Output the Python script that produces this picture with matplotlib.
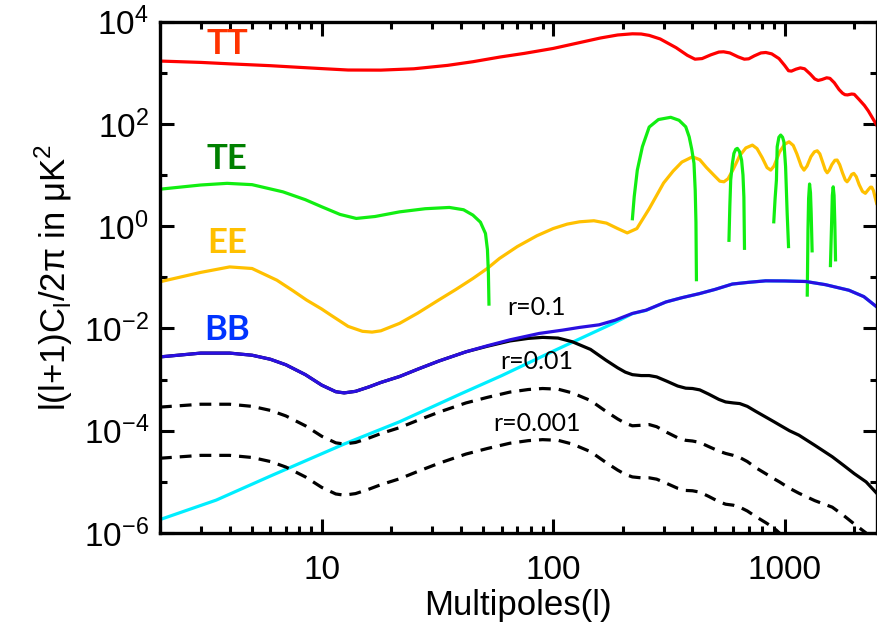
import numpy as np
import matplotlib
matplotlib.use("Agg")
import matplotlib.pyplot as plt
from matplotlib.ticker import FixedLocator, FuncFormatter, NullFormatter

plt.rcParams['font.family'] = ['Liberation Sans', 'DejaVu Sans']
plt.rcParams['mathtext.fontset'] = 'custom'
plt.rcParams['mathtext.rm'] = 'Liberation Sans'

nan = np.nan

# TT spectrum
tt_l = [2, 3, 4, 6, 8, 10, 13, 18, 25, 35, 45, 59, 75, 100, 130, 160, 190, 220, 240, 260,
        290, 340, 380, 410, 440, 480, 520, 545, 580, 630, 670, 700, 740, 790, 830, 880, 946,
        1000, 1040, 1070, 1120, 1170, 1220, 1290, 1350, 1396, 1450, 1520, 1570, 1640, 1720,
        1780, 1823, 1870, 1950, 2000, 2100, 2213, 2300, 2400, 2500]
tt = [1700, 1600, 1500, 1380, 1280, 1210, 1135, 1130, 1200, 1400, 1650, 2040, 2400, 3000,
      3900, 4800, 5500, 5800, 5750, 5400, 4600, 3100, 2200, 1850, 1900, 2250, 2550, 2580,
      2450, 2050, 1850, 1880, 2150, 2450, 2500, 2350, 1900, 1400, 1100, 1080, 1180, 1250,
      1200, 950, 760, 710, 740, 800, 780, 640, 470, 400, 374, 370, 385, 380, 300, 230, 180,
      130, 95]

# TE spectrum (positive parts only, NaN = gap)
te_l = [2, 3, 3.9, 5, 6.8, 8.5, 10, 12, 14.1, 17, 21.7, 28, 35.6, 41, 45, 48.5, 51.0, 52.0, 52.5, 52.8, nan,
        220, 224, 231, 243, 260, 285, 322, 350, 374, 387, 397, 406, 411, 414, 416, nan,
        575, 580, 585, 595, 604, 615, 625, 638, 652, 661, 667, 671, nan,
        898, 910, 922, 929, 945, 962, 980, 993, 1010, 1026, 1040, nan,
        1253, 1262, 1270, 1282, 1294, 1303, 1315, nan,
        1578, 1595, 1608, 1622, 1636, 1648, 1660]
te = [5.3, 6.4, 6.9, 6.5, 4.7, 3.3, 2.4, 1.7, 1.42, 1.55, 1.91, 2.2, 2.33, 2.1, 1.65, 1.2, 0.72, 0.35, 0.12, 0.03, nan,
      1.4, 3.8, 12.5, 36, 87, 122, 135, 118, 88, 56, 32, 17, 5, 1.2, 0.09, nan,
      0.53, 2.5, 8, 17, 26.6, 32, 33.3, 29, 19.6, 10, 3.7, 0.37, nan,
      1.22, 3.5, 8, 35.8, 55, 60.7, 55, 44.8, 14.6, 1.78, 0.4, nan,
      0.045, 0.84, 3.5, 6.7, 4.5, 1.78, 0.33, nan,
      0.17, 1.0, 4.0, 5.9, 4.0, 1.2, 0.22]

# EE spectrum
ee_l = [2, 3, 4, 5, 6.4, 7.5, 8.6, 10, 11, 13, 15, 16.5, 18, 21.7, 26, 32, 38, 45, 52, 58.6,
        70, 85, 100, 115, 130, 150, 170, 190, 209, 230, 260, 300, 330, 360, 400, 430, 460,
        500, 525, 547, 570, 600, 640, 680, 726, 760, 800, 840, 871, 900, 950, 1000, 1045,
        1090, 1130, 1180, 1213, 1250, 1300, 1345, 1384, 1420, 1460, 1500, 1528, 1560, 1600,
        1650, 1687, 1730, 1780, 1830, 1862, 1900, 1950, 1991, 2040, 2100, 2170, 2234, 2300,
        2350, 2380, 2420, 2460, 2500]
ee = [0.082, 0.125, 0.16, 0.149, 0.088, 0.055, 0.036, 0.024, 0.018, 0.011, 0.0088, 0.0085,
      0.009, 0.0126, 0.02, 0.036, 0.058, 0.095, 0.15, 0.234, 0.4, 0.65, 0.9, 1.1, 1.22, 1.28,
      1.15, 0.9, 0.74, 0.9, 2.2, 7, 12, 18, 22.8, 20, 14, 9.5, 7.6, 7.4, 8.5, 13, 24, 34,
      38.6, 33, 22, 14, 12.5, 15, 28, 40, 44.8, 38, 26, 15, 12.5, 15, 23, 28.5, 29.9, 26, 18,
      12.5, 11.1, 12.5, 16, 19.5, 19.7, 16, 11, 8, 7.4, 8.3, 10.3, 10.8, 9.3, 6.5, 4.8, 4.4,
      5.2, 5.8, 5.8, 5, 3.7, 2.8]

# BB total (lensing + r=0.1)
bb_l = [2, 3, 4, 5, 6, 7, 8.5, 10, 11.5, 12.5, 14, 16, 18, 21.7, 26, 32, 42, 52, 65, 87,
        110, 130, 158, 185, 220, 252, 307, 360, 428, 500, 595, 700, 828, 1000, 1234, 1500,
        1896, 2200, 2500]
bb = [2.78e-3, 3.3e-3, 3.3e-3, 3.0e-3, 2.5e-3, 1.95e-3, 1.25e-3, 7.8e-4, 5.8e-4, 5.5e-4,
      5.9e-4, 7.2e-4, 8.8e-4, 1.15e-3, 1.6e-3, 2.3e-3, 3.5e-3, 4.6e-3, 6.0e-3, 8e-3, 9.3e-3,
      0.0105, 0.0118, 0.0145, 0.0197, 0.0228, 0.033, 0.04, 0.048, 0.058, 0.074, 0.08, 0.0855,
      0.085, 0.083, 0.072, 0.056, 0.042, 0.0265]

# lensing BB
lens_l = [2, 3.5, 6, 12.5, 21.7, 40, 60, 100, 140, 181, 220, 252, 307, 360, 428, 500, 595,
          700, 828, 1000, 1234, 1500, 1896, 2200, 2500]
lens = [1.83e-6, 4.4e-6, 1.3e-5, 5.5e-5, 1.5e-4, 5.3e-4, 1.2e-3, 3.6e-3, 7.3e-3, 0.0125,
        0.0195, 0.0226, 0.033, 0.04, 0.048, 0.058, 0.074, 0.08, 0.0855, 0.085, 0.083, 0.072,
        0.056, 0.042, 0.0265]

# primordial BB for three tensor-to-scalar ratios
r_l = [2, 3, 4, 5, 6, 7, 8.5, 10, 11.5, 12.5, 14, 16, 18, 21.7, 26, 32, 42, 52, 65, 78,
       90, 105, 121, 145, 169, 190, 205, 220, 240, 260, 280, 310, 345, 374, 400, 430, 470,
       520, 556, 600, 640, 690, 750, 828, 900, 950, 1050, 1153, 1350, 1607, 1800, 2000,
       2250, 2500]
r_01 = [2.78e-3, 3.3e-3, 3.3e-3, 3.0e-3, 2.5e-3, 1.95e-3, 1.25e-3, 7.8e-4, 5.8e-4, 5.5e-4,
        5.9e-4, 7.2e-4, 8.8e-4, 1.15e-3, 1.6e-3, 2.3e-3, 3.5e-3, 4.5e-3, 5.7e-3, 6.4e-3,
        6.7e-3, 6.5e-3, 5.5e-3, 3.9e-3, 2.4e-3, 1.7e-3, 1.4e-3, 1.25e-3, 1.2e-3, 1.2e-3,
        1.13e-3, 9.3e-4, 7.5e-4, 6.8e-4, 6.7e-4, 6.3e-4, 5.2e-4, 4.1e-4, 3.66e-4, 3.5e-4,
        3.4e-4, 3.0e-4, 2.4e-4, 1.86e-4, 1.5e-4, 1.3e-4, 1.0e-4, 8.2e-5, 5.2e-5, 3.1e-5,
        2.1e-5, 1.45e-5, 1e-5, 6e-6]
r_001 = [2.9e-4, 3.3e-4, 3.3e-4, 3.0e-4, 2.5e-4, 1.95e-4, 1.25e-4, 7.8e-5, 5.8e-5, 5.5e-5,
         5.9e-5, 7.2e-5, 8.8e-5, 1.15e-4, 1.6e-4, 2.3e-4, 3.5e-4, 4.5e-4, 5.7e-4, 6.4e-4,
         6.7e-4, 6.5e-4, 5.5e-4, 3.9e-4, 2.4e-4, 1.7e-4, 1.4e-4, 1.25e-4, 1.28e-4, 1.32e-4,
         1.2e-4, 9.3e-5, 7.3e-5, 6.5e-5, 6.3e-5, 5.9e-5, 4.9e-5, 4.0e-5, 3.6e-5, 3.3e-5,
         3.0e-5, 2.5e-5, 1.9e-5, 1.45e-5, 1.15e-5, 1.0e-5, 7.5e-6, 6.0e-6, 4.3e-6, 3.2e-6,
         2.2e-6, 1.5e-6, 1e-6, 5e-7]
r_0001 = [2.9e-5, 3.3e-5, 3.3e-5, 3.0e-5, 2.5e-5, 1.95e-5, 1.25e-5, 7.8e-6, 5.8e-6, 5.5e-6,
          5.9e-6, 7.2e-6, 8.8e-6, 1.15e-5, 1.6e-5, 2.3e-5, 3.5e-5, 4.5e-5, 5.7e-5, 6.4e-5,
          6.7e-5, 6.5e-5, 5.5e-5, 3.9e-5, 2.4e-5, 1.7e-5, 1.4e-5, 1.25e-5, 1.2e-5, 1.2e-5,
          1.13e-5, 9.3e-6, 7.5e-6, 6.8e-6, 6.7e-6, 6.3e-6, 5.2e-6, 4.1e-6, 3.66e-6, 3.5e-6,
          3.2e-6, 2.7e-6, 2.1e-6, 1.6e-6, 1.25e-6, 1.0e-6, 7e-7, nan, nan, nan,
          nan, nan, nan, nan]

fig = plt.figure(figsize=(8.78, 6.31), dpi=100)
ax = fig.add_axes([0.1822, 0.1553, 0.8163, 0.8103])

lw = 2.3
ax.plot(tt_l, tt, color='#ff0000', lw=lw)
ax.plot(ee_l, ee, color='#ffc000', lw=lw)
ax.plot(te_l, te, color='#11ee11', lw=lw)
ax.plot(lens_l, lens, color='#00eeff', lw=lw)
ax.plot(r_l, r_001, color='black', lw=lw, dashes=(3.7, 2.5))
ax.plot(r_l, r_0001, color='black', lw=lw, dashes=(3.7, 2.5))
ax.plot(r_l, r_01, color='black', lw=lw)
ax.plot(bb_l, bb, color='#2a0fe0', lw=lw)

ax.set_xscale('log')
ax.set_yscale('log')
ax.set_xlim(2, 2500)
ax.set_ylim(1e-6, 1e4)

# curve labels
lab = dict(family=['Lato', 'DejaVu Sans'], fontweight='bold', fontsize=25,
           ha='center', va='center')
ax.text(3.9, 3600, 'TT', color='#ff3300', **lab)
ax.text(3.9, 21, 'TE', color='#008000', **lab)
ax.text(3.9, 0.47, 'EE', color='#ffc000', **lab)
ax.text(3.9, 0.0093, 'BB', color='#0033ff', **lab)

rl = dict(family=['Lato', 'DejaVu Sans'], fontsize=18, ha='center', va='center', color='black')
ax.text(85, 0.026, 'r=0.1', **rl)
ax.text(85, 2.3e-3, 'r=0.01', **rl)
ax.text(85, 1.4e-4, 'r=0.001', **rl)

ax.xaxis.set_major_locator(FixedLocator([10, 100, 1000]))
ax.xaxis.set_major_formatter(FuncFormatter(lambda v, p: '%d' % round(v)))
ax.xaxis.set_minor_locator(FixedLocator([2, 3, 4, 5, 6, 7, 8, 9, 20, 30, 40, 50, 60, 70, 80, 90,
                                         200, 300, 400, 500, 600, 700, 800, 900, 2000]))
ax.xaxis.set_minor_formatter(NullFormatter())
ax.yaxis.set_major_locator(FixedLocator([1e-6, 1e-4, 1e-2, 1e0, 1e2, 1e4]))
ax.yaxis.set_major_formatter(FuncFormatter(lambda v, p: r'$\mathregular{10^{%d}}$' % round(np.log10(v))))
ax.yaxis.set_minor_locator(FixedLocator([1e-5, 1e-3, 1e-1, 1e1, 1e3]))
ax.yaxis.set_minor_formatter(NullFormatter())

ax.tick_params(which='both', direction='in', top=True, right=True, width=2.2, colors='black')
ax.tick_params(which='major', length=10, labelsize=24)
ax.tick_params(which='minor', length=5)
ax.tick_params(axis='x', which='major', pad=16)
ax.tick_params(axis='y', which='major', pad=8)
for s in ax.spines.values():
    s.set_linewidth(2.4)

ax.set_xlabel('Multipoles(l)', fontsize=25, labelpad=2)
ax.set_ylabel(r'l(l+1)C$_\mathregular{l}$/2π in μK$^\mathregular{2}$', fontsize=25, labelpad=6)

fig.savefig('out.png', dpi=100)
